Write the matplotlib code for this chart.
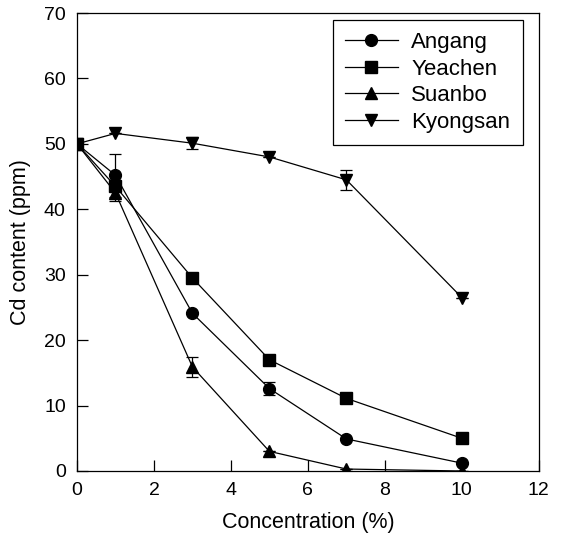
import matplotlib
matplotlib.use("Agg")
import matplotlib.pyplot as plt

plt.rcParams['font.family'] = ['Liberation Sans', 'DejaVu Sans']

# data
conc = [0, 1, 3, 5, 7, 10]
angang = [50, 45.2, 24.1, 12.6, 4.9, 1.2]
angang_err = [0, 3.3, 0, 1.0, 0, 0]
yeachen = [50, 43.5, 29.5, 17.0, 11.1, 5.0]
yeachen_err = [0, 0, 0, 0.8, 0, 0]
suanbo = [50, 42.5, 15.9, 3.0, 0.3, 0.0]
suanbo_err = [0, 1.3, 1.6, 0, 0, 0]
kyongsan = [50, 51.6, 50.1, 48.0, 44.5, 26.5]
kyongsan_err = [0, 0, 0.9, 0, 1.5, 0]

names = ['Angang', 'Yeachen', 'Suanbo', 'Kyongsan']
series = [angang, yeachen, suanbo, kyongsan]
errs = [angang_err, yeachen_err, suanbo_err, kyongsan_err]
markers = ['o', 's', '^', 'v']

fig = plt.figure(figsize=(5.66, 5.42), dpi=100)
ax = fig.add_axes([0.136, 0.131, 0.816, 0.845])

for name, y, e, m in zip(names, series, errs, markers):
    ax.errorbar(conc, y, yerr=e, color='black', marker=m, markersize=8.5,
                linewidth=0.9, elinewidth=0.9, capsize=4, capthick=0.9,
                label=name)

ax.set_xlim(0, 12)
ax.set_ylim(0, 70)
ax.set_xticks(range(0, 13, 2))
ax.set_yticks(range(0, 71, 10))
ax.tick_params(direction='in', length=8, width=0.9, labelsize=14, pad=8)
for s in ax.spines.values():
    s.set_linewidth(0.9)

ax.set_xlabel('Concentration (%)', fontsize=15.5, labelpad=9)
ax.set_ylabel('Cd content (ppm)', fontsize=15.5, labelpad=9)

handles, labels = ax.get_legend_handles_labels()
handles = [h[0] for h in handles]
leg = ax.legend(handles, labels, loc='upper right', bbox_to_anchor=(0.965, 0.985),
                borderaxespad=0, fontsize=16, handlelength=2.4, fancybox=False,
                framealpha=1, edgecolor='black', labelspacing=0.25,
                handletextpad=0.6, borderpad=0.55)
leg.get_frame().set_linewidth(0.9)

fig.savefig('out.png', dpi=100)
